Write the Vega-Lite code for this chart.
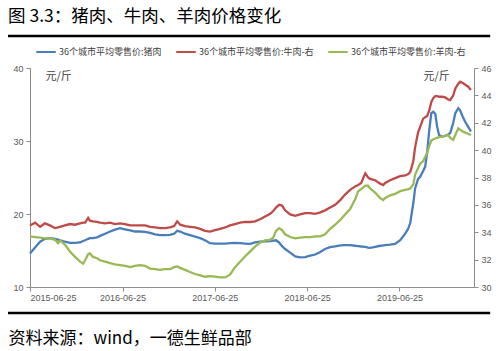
{
  "$schema": "https://vega.github.io/schema/vega-lite/v6.json",
  "width": 444,
  "height": 219,
  "autosize": {"type": "none"},
  "padding": {"left": 30, "top": 68, "right": 26, "bottom": 64},
  "background": "white",
  "config": {"view": {"stroke": null}, "font": "Noto Sans CJK SC"},
  "title": {"text": "图 3.3：猪肉、牛肉、羊肉价格变化", "anchor": "start", "frame": "group", "dx": -22, "offset": 9, "fontSize": 17.5, "fontWeight": "normal", "color": "#000000", "font": "Noto Sans CJK SC"},
  "datasets": {
    "d": [
      {"d":"2015-06-25","p":14.6,"b":34.5,"m":33.7},
      {"d":"2015-07-15","p":15.4,"b":34.7,"m":33.65},
      {"d":"2015-08-04","p":16.2,"b":34.4,"m":33.6},
      {"d":"2015-08-23","p":16.6,"b":34.65,"m":33.55},
      {"d":"2015-09-12","p":16.7,"b":34.5,"m":33.55},
      {"d":"2015-10-02","p":16.6,"b":34.3,"m":33.45},
      {"d":"2015-10-14","p":16.5,"b":34.35,"m":33.2},
      {"d":"2015-10-22","p":16.4,"b":34.4,"m":33.4},
      {"d":"2015-11-10","p":16.2,"b":34.5,"m":33.1},
      {"d":"2015-11-30","p":16.05,"b":34.6,"m":32.6},
      {"d":"2015-12-20","p":16.05,"b":34.55,"m":32.2},
      {"d":"2016-01-09","p":16.1,"b":34.65,"m":31.85},
      {"d":"2016-01-21","p":16.3,"b":34.7,"m":31.7},
      {"d":"2016-01-29","p":16.4,"b":34.7,"m":31.95},
      {"d":"2016-02-10","p":16.6,"b":35.05,"m":32.4},
      {"d":"2016-02-17","p":16.7,"b":34.85,"m":32.45},
      {"d":"2016-02-29","p":16.7,"b":34.8,"m":32.2},
      {"d":"2016-03-16","p":16.8,"b":34.75,"m":32.1},
      {"d":"2016-03-28","p":17.0,"b":34.7,"m":31.95},
      {"d":"2016-04-17","p":17.3,"b":34.65,"m":31.85},
      {"d":"2016-05-07","p":17.6,"b":34.7,"m":31.75},
      {"d":"2016-05-26","p":17.85,"b":34.6,"m":31.65},
      {"d":"2016-06-15","p":18.05,"b":34.65,"m":31.6},
      {"d":"2016-07-05","p":17.9,"b":34.6,"m":31.55},
      {"d":"2016-07-25","p":17.75,"b":34.5,"m":31.45},
      {"d":"2016-08-13","p":17.6,"b":34.5,"m":31.55},
      {"d":"2016-09-02","p":17.6,"b":34.5,"m":31.6},
      {"d":"2016-09-22","p":17.55,"b":34.5,"m":31.55},
      {"d":"2016-10-12","p":17.4,"b":34.4,"m":31.35},
      {"d":"2016-11-01","p":17.2,"b":34.35,"m":31.3},
      {"d":"2016-11-20","p":17.1,"b":34.3,"m":31.25},
      {"d":"2016-12-10","p":17.1,"b":34.3,"m":31.3},
      {"d":"2016-12-30","p":17.15,"b":34.35,"m":31.3},
      {"d":"2017-01-15","p":17.3,"b":34.45,"m":31.45},
      {"d":"2017-01-27","p":17.7,"b":34.8,"m":31.5},
      {"d":"2017-02-08","p":17.6,"b":34.55,"m":31.4},
      {"d":"2017-02-27","p":17.3,"b":34.45,"m":31.25},
      {"d":"2017-03-19","p":17.1,"b":34.4,"m":31.1},
      {"d":"2017-04-08","p":16.9,"b":34.35,"m":30.95},
      {"d":"2017-04-28","p":16.7,"b":34.25,"m":30.85},
      {"d":"2017-05-17","p":16.4,"b":34.1,"m":30.75},
      {"d":"2017-06-06","p":16.0,"b":34.05,"m":30.8},
      {"d":"2017-06-26","p":15.95,"b":34.15,"m":30.75},
      {"d":"2017-07-16","p":15.95,"b":34.25,"m":30.7},
      {"d":"2017-08-05","p":15.95,"b":34.35,"m":30.7},
      {"d":"2017-08-24","p":16.0,"b":34.5,"m":30.9},
      {"d":"2017-09-13","p":16.05,"b":34.6,"m":31.45},
      {"d":"2017-10-03","p":16.0,"b":34.7,"m":31.85},
      {"d":"2017-10-23","p":15.95,"b":34.75,"m":32.25},
      {"d":"2017-11-12","p":15.9,"b":34.75,"m":32.6},
      {"d":"2017-12-01","p":16.1,"b":34.8,"m":32.95},
      {"d":"2017-12-21","p":16.2,"b":34.95,"m":33.25},
      {"d":"2018-01-10","p":16.25,"b":35.15,"m":33.4},
      {"d":"2018-01-30","p":16.3,"b":35.35,"m":33.45},
      {"d":"2018-02-11","p":16.35,"b":35.55,"m":33.6},
      {"d":"2018-02-22","p":16.4,"b":35.8,"m":34.1},
      {"d":"2018-03-06","p":16.1,"b":36.0,"m":34.3},
      {"d":"2018-03-18","p":15.6,"b":35.95,"m":34.15},
      {"d":"2018-03-30","p":15.2,"b":35.6,"m":33.85},
      {"d":"2018-04-19","p":14.7,"b":35.3,"m":33.65},
      {"d":"2018-05-09","p":14.2,"b":35.2,"m":33.55},
      {"d":"2018-05-28","p":14.05,"b":35.3,"m":33.6},
      {"d":"2018-06-17","p":14.1,"b":35.4,"m":33.65},
      {"d":"2018-07-07","p":14.3,"b":35.4,"m":33.65},
      {"d":"2018-07-27","p":14.45,"b":35.35,"m":33.7},
      {"d":"2018-08-16","p":14.8,"b":35.45,"m":33.7},
      {"d":"2018-09-04","p":15.2,"b":35.6,"m":33.85},
      {"d":"2018-09-24","p":15.45,"b":35.8,"m":34.25},
      {"d":"2018-10-14","p":15.55,"b":36.0,"m":34.55},
      {"d":"2018-11-03","p":15.7,"b":36.35,"m":34.9},
      {"d":"2018-11-22","p":15.75,"b":36.75,"m":35.3},
      {"d":"2018-12-12","p":15.75,"b":37.1,"m":35.7},
      {"d":"2019-01-01","p":15.65,"b":37.35,"m":36.4},
      {"d":"2019-01-13","p":15.6,"b":37.45,"m":37.0},
      {"d":"2019-01-25","p":15.55,"b":37.6,"m":37.15},
      {"d":"2019-02-10","p":15.5,"b":38.3,"m":37.4},
      {"d":"2019-02-21","p":15.4,"b":38.0,"m":37.4},
      {"d":"2019-03-01","p":15.35,"b":37.9,"m":37.2},
      {"d":"2019-03-21","p":15.5,"b":37.8,"m":36.9},
      {"d":"2019-04-10","p":15.65,"b":37.55,"m":36.5},
      {"d":"2019-04-22","p":15.7,"b":37.45,"m":36.35},
      {"d":"2019-04-30","p":15.75,"b":37.6,"m":36.5},
      {"d":"2019-05-19","p":15.8,"b":37.8,"m":36.7},
      {"d":"2019-06-08","p":15.9,"b":37.95,"m":36.8},
      {"d":"2019-06-28","p":16.4,"b":38.1,"m":37.0},
      {"d":"2019-07-18","p":17.3,"b":38.15,"m":37.1},
      {"d":"2019-07-30","p":18.0,"b":38.25,"m":37.15},
      {"d":"2019-08-07","p":18.8,"b":38.4,"m":37.2},
      {"d":"2019-08-19","p":21.5,"b":39.2,"m":37.5},
      {"d":"2019-08-26","p":23.5,"b":40.2,"m":38.2},
      {"d":"2019-09-07","p":24.8,"b":41.3,"m":38.7},
      {"d":"2019-09-15","p":25.1,"b":41.7,"m":39.0},
      {"d":"2019-09-27","p":25.9,"b":42.3,"m":39.2},
      {"d":"2019-10-05","p":26.5,"b":42.4,"m":39.5},
      {"d":"2019-10-13","p":28.5,"b":42.5,"m":39.8},
      {"d":"2019-10-21","p":31.5,"b":42.9,"m":40.3},
      {"d":"2019-10-29","p":33.8,"b":43.5,"m":40.7},
      {"d":"2019-11-06","p":34.0,"b":43.8,"m":40.8},
      {"d":"2019-11-14","p":33.7,"b":43.95,"m":40.85},
      {"d":"2019-11-21","p":32.0,"b":43.95,"m":40.9},
      {"d":"2019-11-29","p":30.8,"b":43.9,"m":40.95},
      {"d":"2019-12-11","p":30.6,"b":43.9,"m":41.0},
      {"d":"2019-12-23","p":30.7,"b":43.85,"m":41.05},
      {"d":"2020-01-04","p":30.9,"b":43.7,"m":41.1},
      {"d":"2020-01-12","p":31.1,"b":43.65,"m":40.9},
      {"d":"2020-01-24","p":32.5,"b":44.0,"m":40.75},
      {"d":"2020-02-01","p":33.8,"b":44.5,"m":41.1},
      {"d":"2020-02-13","p":34.5,"b":44.85,"m":41.6},
      {"d":"2020-02-20","p":34.2,"b":45.0,"m":41.5},
      {"d":"2020-03-02","p":33.3,"b":44.9,"m":41.35},
      {"d":"2020-03-10","p":32.7,"b":44.8,"m":41.3},
      {"d":"2020-03-22","p":32.0,"b":44.65,"m":41.2},
      {"d":"2020-04-03","p":31.3,"b":44.4,"m":41.1}
    ]
  },
  "layer": [
    {
      "data": {"name": "d"},
      "transform": [{"fold": ["p", "b", "m"], "as": ["k", "v"]}],
      "encoding": {
        "color": {
          "field": "k",
          "type": "nominal",
          "scale": {"domain": ["p", "b", "m"], "range": ["#4A7EBB", "#BE4B48", "#98B954"]},
          "legend": {
            "orient": "none",
            "legendX": 5,
            "legendY": -27,
            "direction": "horizontal",
            "title": null,
            "labelExpr": "datum.value == 'p' ? '36个城市平均零售价:猪肉' : datum.value == 'b' ? '36个城市平均零售价:牛肉-右' : '36个城市平均零售价:羊肉-右'",
            "labelFontSize": 9,
            "labelColor": "#404040",
            "labelFont": "Noto Sans CJK SC",
            "labelOffset": 2,
            "symbolType": "stroke",
            "symbolSize": 380,
            "symbolStrokeWidth": 2,
            "columnPadding": 10
          }
        }
      },
      "layer": [
        {
          "layer": [
            {
              "transform": [{"filter": "datum.k == 'p'"}],
              "mark": {"type": "line", "strokeWidth": 2.3},
              "encoding": {
                "x": {
                  "field": "d",
                  "type": "temporal",
                  "scale": {
                    "type": "utc",
                    "domain": [
                      {"year": 2015, "month": 6, "date": 25, "utc": true},
                      {"year": 2020, "month": 4, "date": 15, "utc": true}
                    ]
                  },
                  "axis": {
                    "values": [
                      {"year": 2015, "month": 6, "date": 25, "utc": true},
                      {"year": 2016, "month": 6, "date": 25, "utc": true},
                      {"year": 2017, "month": 6, "date": 25, "utc": true},
                      {"year": 2018, "month": 6, "date": 25, "utc": true},
                      {"year": 2019, "month": 6, "date": 25, "utc": true}
                    ],
                    "labelExpr": "utcFormat(datum.value, '%Y-%m-%d')",
                    "grid": false,
                    "domainColor": "#8c8c8c",
                    "tickColor": "#8c8c8c",
                    "tickSize": 4,
                    "labelFontSize": 9,
                    "labelColor": "#595959",
                    "labelPadding": 2,
                    "labelFont": "Liberation Sans",
                    "title": "资料来源：wind，一德生鲜品部",
                    "titleX": -22,
                    "titleY": 51,
                    "titleAlign": "left",
                    "titleBaseline": "middle",
                    "titleFontSize": 17,
                    "titleFontWeight": "normal",
                    "titleColor": "#000000",
                    "titleFont": "Noto Sans CJK SC"
                  }
                },
                "y": {
                  "field": "v",
                  "type": "quantitative",
                  "scale": {"domain": [10, 40], "nice": false, "zero": false},
                  "axis": {
                    "values": [10, 15, 20, 25, 30, 35, 40],
                    "grid": false,
                    "domainColor": "#8c8c8c",
                    "tickColor": "#8c8c8c",
                    "tickSize": 4,
                    "labelFontSize": 9,
                    "labelColor": "#595959",
                    "labelPadding": 3,
                    "labelFont": "Liberation Sans",
                    "title": "元/斤",
                    "titleAngle": 0,
                    "titleX": 15,
                    "titleY": 8,
                    "titleAlign": "left",
                    "titleBaseline": "middle",
                    "titleFontSize": 11,
                    "titleFontWeight": "normal",
                    "titleColor": "#404040"
                  }
                }
              }
            },
            {
              "transform": [{"aggregate": [{"op": "count", "as": "n"}]}],
              "mark": {"type": "rule", "clip": false, "strokeWidth": 2.5, "color": "#000000"},
              "encoding": {
                "x": {"datum": 1427673600000, "type": "temporal"},
                "x2": {"datum": 1592438400000},
                "y": {"datum": 44.38, "type": "quantitative"},
                "color": {"value": "#000000"}
              }
            },
            {
              "transform": [{"aggregate": [{"op": "count", "as": "n"}]}],
              "mark": {"type": "rule", "clip": false, "strokeWidth": 2.5, "color": "#000000"},
              "encoding": {
                "x": {"datum": 1427673600000, "type": "temporal"},
                "x2": {"datum": 1592438400000},
                "y": {"datum": 6.44, "type": "quantitative"},
                "color": {"value": "#000000"}
              }
            }
          ]
        },
        {
          "transform": [{"filter": "datum.k != 'p'"}],
          "mark": {"type": "line", "strokeWidth": 2.3},
          "encoding": {
            "x": {"field": "d", "type": "temporal"},
            "y": {
              "field": "v",
              "type": "quantitative",
              "scale": {"domain": [30, 46], "nice": false, "zero": false},
              "axis": {
                "orient": "right",
                "values": [30, 32, 34, 36, 38, 40, 42, 44, 46],
                "grid": false,
                "domainColor": "#8c8c8c",
                "tickColor": "#8c8c8c",
                "tickSize": 4,
                "labelFontSize": 9,
                "labelColor": "#595959",
                "labelPadding": 3,
                "labelFont": "Liberation Sans",
                "title": "元/斤",
                "titleAngle": 0,
                "titleX": -51,
                "titleY": 8,
                "titleAlign": "left",
                "titleBaseline": "middle",
                "titleFontSize": 11,
                "titleFontWeight": "normal",
                "titleColor": "#404040"
              }
            }
          }
        }
      ],
      "resolve": {"scale": {"y": "independent"}}
    }
  ]
}
